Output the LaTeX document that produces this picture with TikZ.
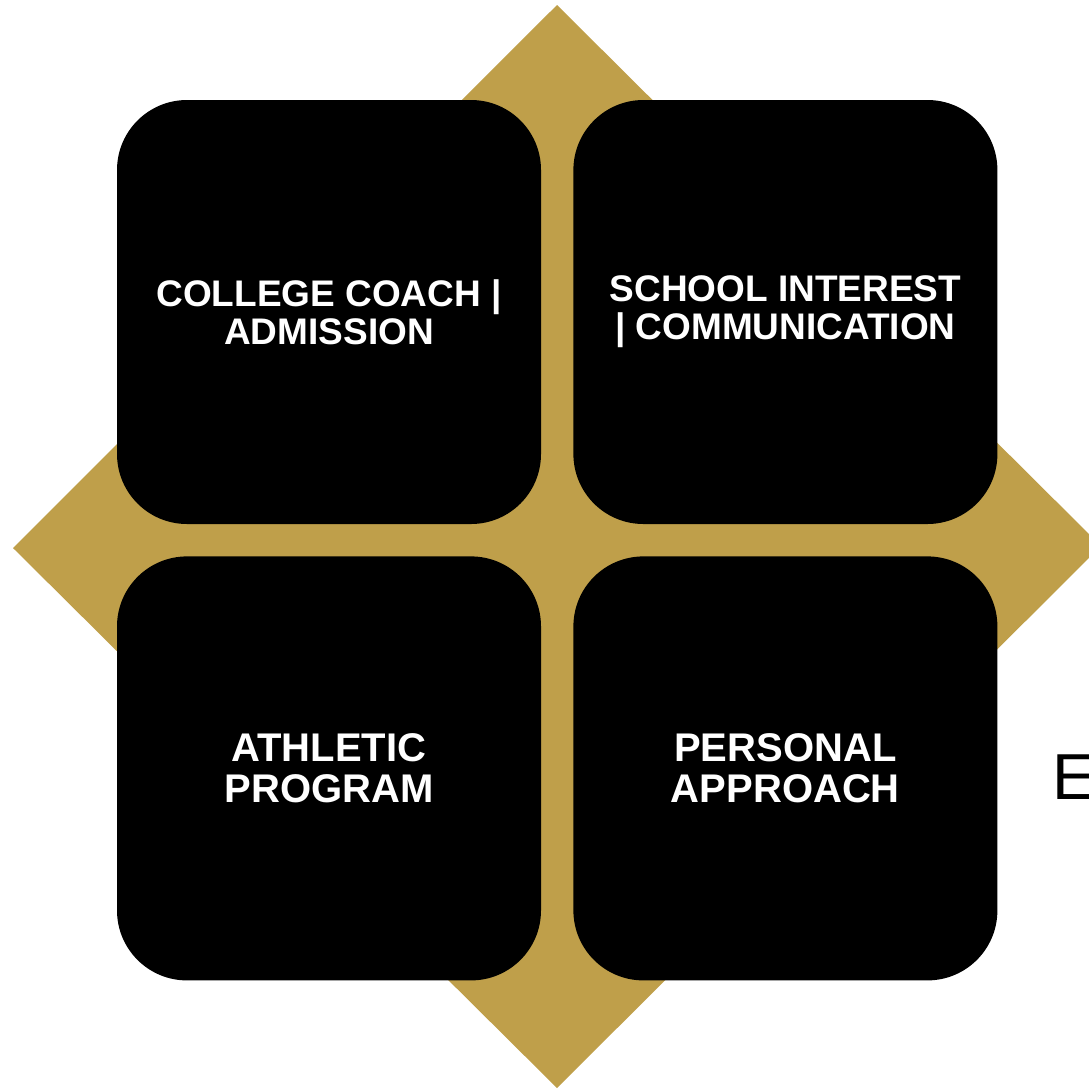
\documentclass[tikz,border=0pt]{standalone}
\usepackage{fontspec}
\setmainfont{Liberation Sans}
\usetikzlibrary{positioning}
\definecolor{gold}{RGB}{191,159,74}
\tikzset{tile/.style={rectangle,fill=black,draw=none,rounded corners=70pt,minimum width=424pt,minimum height=424pt,inner sep=0pt,text=white,align=center,font=\bfseries\fontsize{37}{38}\selectfont},
  bigtile/.style={tile,font=\bfseries\fontsize{40}{41}\selectfont}}

\begin{document}
\begin{tikzpicture}[x=1pt,y=-1pt]
\useasboundingbox (0,0) rectangle (1089,1088);
\draw[fill=gold,draw=none] (557,5) -- (1101,546) -- (557,1088) -- (13,548) -- cycle;

\node[tile] (coach) at (329,312) {COLLEGE COACH |\\ADMISSION};
\node[tile,right=32pt of coach] (interest) {SCHOOL INTEREST\\| COMMUNICATION};
\node[bigtile,below=32pt of coach] (athletic) {ATHLETIC\\PROGRAM};
\node[bigtile,right=32pt of athletic] (approach) {PERSONAL\\APPROACH};

\node[font=\fontsize{65}{78}\selectfont,anchor=base west,inner sep=0pt] (cutE) at (1052,799) {E};
\end{tikzpicture}
\end{document}
